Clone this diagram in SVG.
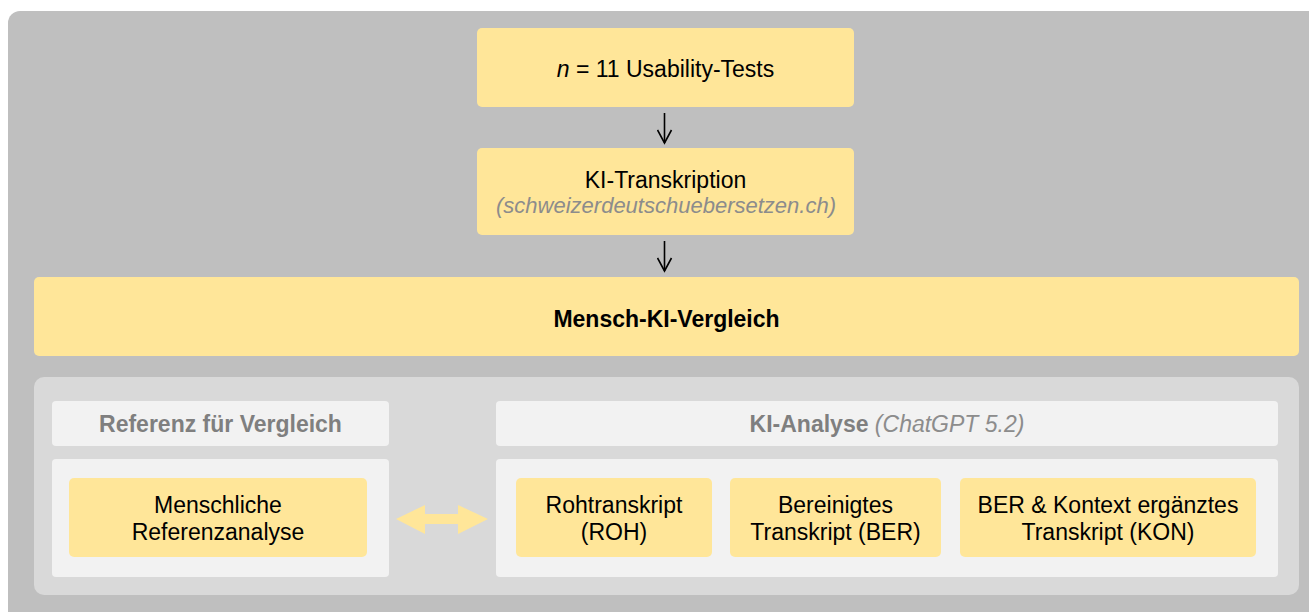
<svg xmlns="http://www.w3.org/2000/svg" width="1309" height="612" viewBox="0 0 1309 612">
  <style>
    text { font-family: "Liberation Sans", Arial, sans-serif; font-size: 23px; text-anchor: middle; fill: #000; }
    .bold { font-weight: bold; }
    .muted { fill: #7f7f7f; font-weight: bold; }
    .note { fill: #8c8c8c; font-style: italic; font-weight: normal; }
    .small { font-size: 22px; }
    .step { fill: #ffe699; }
    .panel { fill: #f2f2f2; }
    .conn { stroke: #000; stroke-width: 1.6; fill: none; }
  </style>
  <defs>
    <!-- open V arrowhead, drawn along +x so orient="auto" follows the line -->
    <marker id="open-arrow" viewBox="0 0 16 16" refX="14" refY="8" markerWidth="16" markerHeight="16" markerUnits="userSpaceOnUse" orient="auto">
      <path d="M1,1 L14,8 L1,15" fill="none" stroke="#000" stroke-width="1.6"/>
    </marker>
  </defs>

  <!-- background frame -->
  <rect id="frame" x="8" y="11" width="1320" height="620" rx="12" fill="#bfbfbf"/>

  <g id="usability-tests">
    <rect class="step" x="477" y="28" width="377" height="79" rx="5"/>
    <text x="665.5" y="77"><tspan font-style="italic">n</tspan> = 11 Usability-Tests</text>
  </g>

  <g id="ki-transkription">
    <rect class="step" x="477" y="148" width="377" height="87" rx="5"/>
    <text x="665.5" y="188">KI-Transkription</text>
    <text class="note small" x="666" y="213">(schweizerdeutschuebersetzen.ch)</text>
  </g>

  <g id="vergleich">
    <rect class="step" x="34" y="277" width="1265" height="79" rx="5"/>
    <text class="bold" x="666.5" y="327">Mensch-KI-Vergleich</text>
  </g>

  <g id="analyse-bereich">
    <rect x="34" y="377" width="1265" height="218" rx="10" fill="#d9d9d9"/>
  </g>

  <g id="referenz">
    <rect class="panel" x="52" y="401" width="337" height="45" rx="4"/>
    <text class="muted" x="220.5" y="432">Referenz für Vergleich</text>
    <rect class="panel" x="52" y="459" width="337" height="118" rx="4"/>
  </g>

  <g id="menschliche-referenz">
    <rect class="step" x="69" y="478" width="298" height="79" rx="5"/>
    <text x="218" y="513">Menschliche</text>
    <text x="218" y="540">Referenzanalyse</text>
  </g>

  <g id="ki-analyse">
    <rect class="panel" x="496" y="401" width="782" height="45" rx="4"/>
    <text x="887" y="432"><tspan class="muted">KI-Analyse</tspan> <tspan class="note" fill="#999">(ChatGPT 5.2)</tspan></text>
    <rect class="panel" x="496" y="459" width="782" height="118" rx="4"/>
  </g>

  <g id="roh">
    <rect class="step" x="516" y="478" width="196" height="79" rx="5"/>
    <text x="614" y="513">Rohtranskript</text>
    <text x="614" y="540">(ROH)</text>
  </g>

  <g id="ber">
    <rect class="step" x="730" y="478" width="211" height="79" rx="5"/>
    <text x="835.5" y="513">Bereinigtes</text>
    <text x="835.5" y="540">Transkript (BER)</text>
  </g>

  <g id="kon">
    <rect class="step" x="960" y="478" width="296" height="79" rx="5"/>
    <text x="1108" y="513">BER &amp; Kontext ergänztes</text>
    <text x="1108" y="540">Transkript (KON)</text>
  </g>

  <g id="connectors">
    <line class="conn" x1="664.5" y1="113" x2="664.5" y2="143" marker-end="url(#open-arrow)"/>
    <line class="conn" x1="664.5" y1="241" x2="664.5" y2="271" marker-end="url(#open-arrow)"/>
    <!-- two-way comparison arrow -->
    <polygon fill="#ffe699" points="396,519 425,505 425,514 458,514 458,505 488,519 458,534 458,524 425,524 425,534"/>
  </g>
</svg>
